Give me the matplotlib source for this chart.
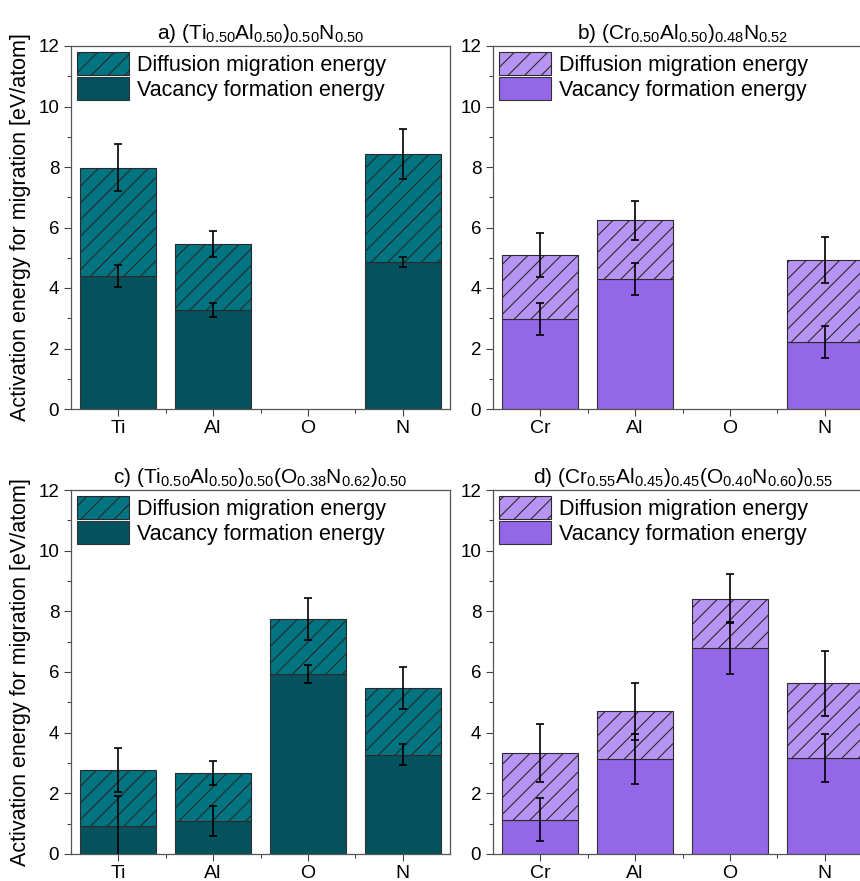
import matplotlib
matplotlib.use('Agg')
import matplotlib.pyplot as plt
from matplotlib.ticker import MultipleLocator, FixedLocator

plt.rcParams['font.family'] = ['Liberation Sans', 'DejaVu Sans']
plt.rcParams['mathtext.default'] = 'regular'
plt.rcParams['hatch.linewidth'] = 0.8

# energies in eV/atom: vacancy formation (bottom) and total (top of stacked bar)
elements_ti = ['Ti', 'Al', 'O', 'N']
elements_cr = ['Cr', 'Al', 'O', 'N']

vac_a = [4.40, 3.27, 0.0, 4.86]
tot_a = [7.98, 5.45, 0.0, 8.42]
vac_err_a = [0.37, 0.24, 0.0, 0.18]
tot_err_a = [0.77, 0.43, 0.0, 0.82]

vac_b = [2.97, 4.29, 0.0, 2.21]
tot_b = [5.10, 6.24, 0.0, 4.93]
vac_err_b = [0.54, 0.52, 0.0, 0.52]
tot_err_b = [0.73, 0.64, 0.0, 0.76]

vac_c = [0.91, 1.08, 5.93, 3.27]
tot_c = [2.77, 2.68, 7.75, 5.47]
vac_err_c = [1.01, 0.49, 0.29, 0.34]
tot_err_c = [0.71, 0.39, 0.69, 0.70]

vac_d = [1.13, 3.13, 6.79, 3.16]
tot_d = [3.32, 4.70, 8.42, 5.63]
vac_err_d = [0.70, 0.83, 0.87, 0.80]
tot_err_d = [0.95, 0.93, 0.81, 1.07]

teal = ('#03525d', '#017481')
purple = ('#9466e8', '#b794f4')

titles = [
    r'a) (Ti$_{0.50}$Al$_{0.50}$)$_{0.50}$N$_{0.50}$',
    r'b) (Cr$_{0.50}$Al$_{0.50}$)$_{0.48}$N$_{0.52}$',
    r'c) (Ti$_{0.50}$Al$_{0.50}$)$_{0.50}$(O$_{0.38}$N$_{0.62}$)$_{0.50}$',
    r'd) (Cr$_{0.55}$Al$_{0.45}$)$_{0.45}$(O$_{0.40}$N$_{0.60}$)$_{0.55}$',
]

panels = [
    (elements_ti, vac_a, tot_a, vac_err_a, tot_err_a, teal),
    (elements_cr, vac_b, tot_b, vac_err_b, tot_err_b, purple),
    (elements_ti, vac_c, tot_c, vac_err_c, tot_err_c, teal),
    (elements_cr, vac_d, tot_d, vac_err_d, tot_err_d, purple),
]

W, H = 860, 881
fig = plt.figure(figsize=(W / 100, H / 100), dpi=100)

# axes boxes in pixels: left, top, right, bottom (right column is cut by the figure edge)
boxes = [(71, 46, 450, 409), (493, 46, 872, 409),
         (71, 490, 450, 854), (493, 490, 872, 854)]

for i, (box, panel, title) in enumerate(zip(boxes, panels, titles)):
    l, t, r, b = box
    ax = fig.add_axes([l / W, (H - b) / H, (r - l) / W, (b - t) / H])
    labels, vac, tot, vac_err, tot_err, colors = panel
    pos = [1, 2, 3, 4]
    # no bar where the element is absent
    keep = [k for k in range(4) if tot[k] > 0]
    x = [pos[k] for k in keep]
    v = [vac[k] for k in keep]
    d = [tot[k] - vac[k] for k in keep]

    ax.bar(x, v, width=0.8, color=colors[0], edgecolor='#333333', linewidth=0.8,
           label='Vacancy formation energy', zorder=2)
    ax.bar(x, d, bottom=v, width=0.8, color=colors[1], edgecolor='#2a2a2a',
           linewidth=0.8, hatch='//', label='Diffusion migration energy', zorder=2)

    for k in keep:
        ax.errorbar(pos[k], vac[k], yerr=vac_err[k], fmt='none', ecolor='black',
                    elinewidth=1.2, capsize=3, capthick=1.2, zorder=3)
        ax.errorbar(pos[k], tot[k], yerr=tot_err[k], fmt='none', ecolor='black',
                    elinewidth=1.2, capsize=3, capthick=1.2, zorder=3)

    ax.set_xlim(0.5, 4.5)
    ax.set_ylim(0, 12)
    ax.set_xticks(pos)
    ax.set_xticklabels(labels, fontsize=14)
    ax.xaxis.set_minor_locator(FixedLocator([1.5, 2.5, 3.5]))
    ax.yaxis.set_major_locator(MultipleLocator(2))
    ax.yaxis.set_minor_locator(MultipleLocator(1))
    ax.tick_params(axis='y', labelsize=13.5)
    ax.tick_params(which='major', direction='out', length=5, width=0.8, color='#444444')
    ax.tick_params(which='minor', direction='out', length=3, width=0.8, color='#444444')
    ax.tick_params(axis='x', which='both', pad=3)
    for s in ax.spines.values():
        s.set_color('#555555')
        s.set_linewidth(0.9)

    ax.set_title(title, fontsize=15, pad=5)
    if i % 2 == 0:
        ax.set_ylabel('Activation energy for migration [eV/atom]', fontsize=15.5, labelpad=5)

    handles, leg_labels = ax.get_legend_handles_labels()
    ax.legend(handles[::-1], leg_labels[::-1], loc='upper left', frameon=False,
              fontsize=15.5, handlelength=2.4, handleheight=1.2, labelspacing=0.08,
              handletextpad=0.35, borderpad=0.15, borderaxespad=0.15)

fig.savefig('out.png', dpi=100)
